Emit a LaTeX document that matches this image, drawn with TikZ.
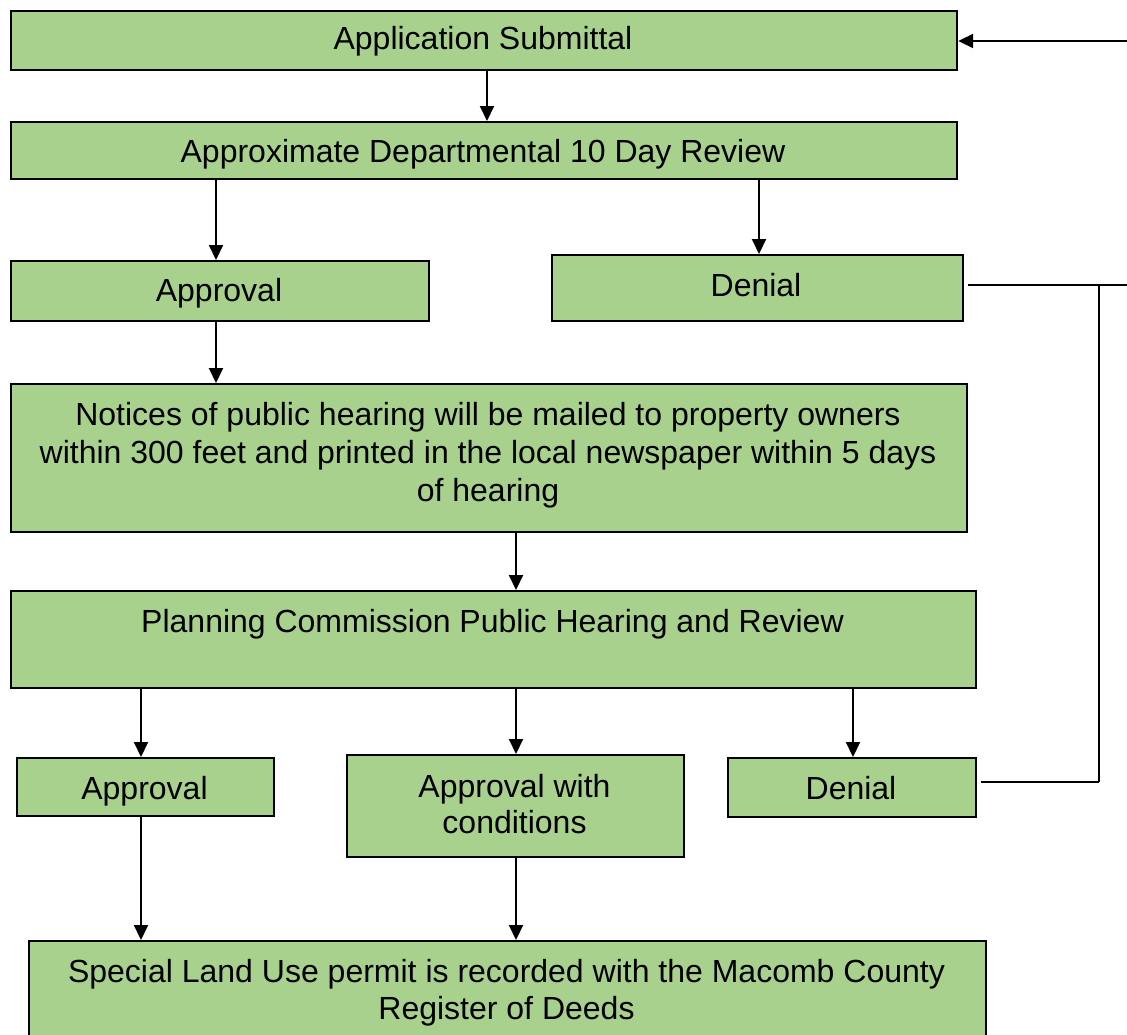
\documentclass[tikz,border=0pt]{standalone}
\usepackage{fontspec}
\setmainfont{Liberation Sans}
\usetikzlibrary{arrows.meta}
\definecolor{boxgreen}{HTML}{A9D18E}
\begin{document}
\begin{tikzpicture}[x=1pt,y=-1pt,
  box/.style={draw=black,line width=2.2pt,fill=boxgreen,inner sep=0pt},
  txt/.style={font=\fontsize{32}{38}\selectfont,anchor=base,inner sep=0pt},
  arr/.style={line width=2pt,-{Triangle[length=15pt,width=14pt]}},
  ln/.style={line width=2pt}]
\useasboundingbox (0,0) rectangle (1127,1034);
\clip (0,0) rectangle (1127,1034);
% boxes
\node[box,minimum width=946pt,minimum height=59pt,anchor=north west] (b1) at (10,10) {};
\node[box,minimum width=946pt,minimum height=57pt,anchor=north west] (b2) at (10,121) {};
\node[box,minimum width=418pt,minimum height=60pt,anchor=north west] (b3) at (10,260) {};
\node[box,minimum width=411pt,minimum height=66pt,anchor=north west] (b4) at (551,254) {};
\node[box,minimum width=956pt,minimum height=148pt,anchor=north west] (b5) at (10,383) {};
\node[box,minimum width=965pt,minimum height=97pt,anchor=north west] (b6) at (10,590) {};
\node[box,minimum width=257pt,minimum height=58pt,anchor=north west] (b7) at (16,757) {};
\node[box,minimum width=337pt,minimum height=102pt,anchor=north west] (b8) at (346,754) {};
\node[box,minimum width=248pt,minimum height=59pt,anchor=north west] (b9) at (727,757) {};
\node[box,minimum width=957pt,minimum height=110pt,anchor=north west] (b10) at (28,940) {};
% texts
\node[txt] (t1) at (483,49) {Application Submittal};
\node[txt] (t2) at (483,162) {Approximate Departmental 10 Day Review};
\node[txt] (t3) at (219,301) {Approval};
\node[txt] (t4) at (756,296) {Denial};
\node[txt] (t5a) at (488,425) {Notices of public hearing will be mailed to property owners};
\node[txt] (t5b) at (488,463) {within 300 feet and printed in the local newspaper within 5 days};
\node[txt] (t5c) at (488,501) {of hearing};
\node[txt] (t6) at (492.5,632) {Planning Commission Public Hearing and Review};
\node[txt] (t7) at (144.5,799) {Approval};
\node[txt] (t8a) at (514.5,797) {Approval with};
\node[txt] (t8b) at (514.5,833) {conditions};
\node[txt] (t9) at (851,799) {Denial};
\node[txt] (t10a) at (506.5,982) {Special Land Use permit is recorded with the Macomb County};
\node[txt] (t10b) at (506.5,1019) {Register of Deeds};
% coordinates for the return path
\coordinate (rtop) at (1127,41);
\coordinate (rmid) at (1127,285);
\coordinate (vtop) at (1099,285);
\coordinate (vbot) at (1099,782);
% arrows
\draw[arr] (b1.south -| 487,0) -- (b2.north -| 487,0);
\draw[arr] (b2.south -| 216,0) -- (b3.north -| 216,0);
\draw[arr] (b2.south -| 759,0) -- (b4.north -| 759,0);
\draw[arr] (b3.south -| 216,0) -- (b5.north -| 216,0);
\draw[arr] (b5.south -| 516,0) -- (b6.north -| 516,0);
\draw[arr] (b6.south -| 141,0) -- (b7.north -| 141,0);
\draw[arr] (b6.south -| 516,0) -- (b8.north -| 516,0);
\draw[arr] (b6.south -| 853,0) -- (b9.north -| 853,0);
\draw[arr] (b7.south -| 141,0) -- (b10.north -| 141,0);
\draw[arr] (b8.south -| 516,0) -- (b10.north -| 516,0);
\draw[arr] (rtop) -- (b1.east |- rtop);
\draw[ln] ([xshift=4pt]b4.east |- rmid) -- (rmid);
\draw[ln] (vtop) -- (vbot);
\draw[ln] ([xshift=4pt]b9.east |- vbot) -- (vbot);
\end{tikzpicture}
\end{document}
